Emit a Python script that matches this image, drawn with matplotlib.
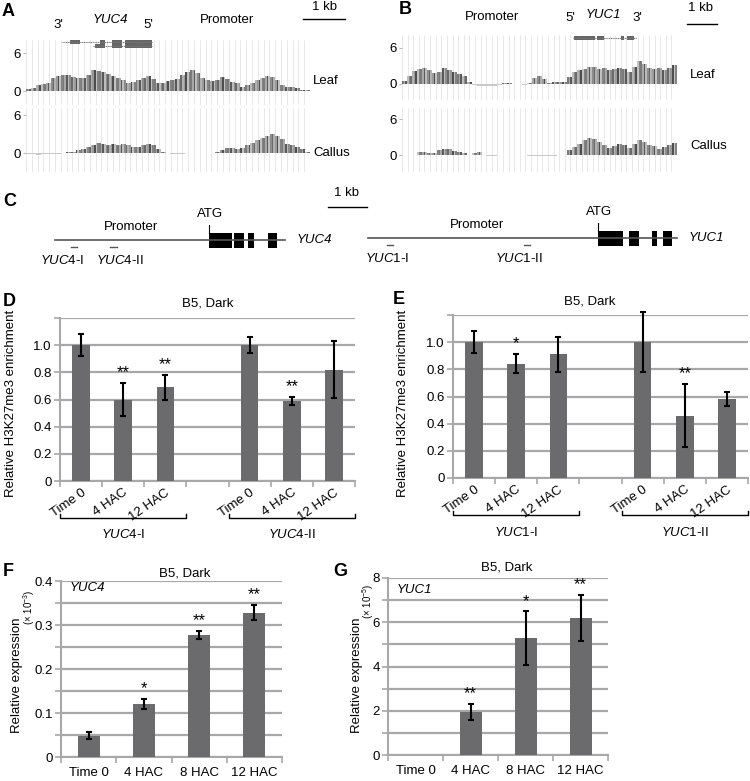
import numpy as np
import matplotlib
matplotlib.use('Agg')
import matplotlib.pyplot as plt
import matplotlib.transforms as mtransforms
from matplotlib.patches import Rectangle

plt.rcParams['font.family'] = ['Liberation Sans', 'DejaVu Sans']
plt.rcParams['mathtext.fontset'] = 'custom'
plt.rcParams['mathtext.rm'] = 'Liberation Sans'
plt.rcParams['mathtext.it'] = 'Liberation Sans:italic'

W, H = 750, 781

# H3K27me3 ChIP-seq tracks, one value per bin
yuc4_leaf = [0.3, 0.4, 0.9, 1.1, 1.2, 2.1, 2.4, 2.5, 2.5, 2.2, 2.0, 2.0, 2.5, 3.3, 3.2,
             3.0, 2.7, 2.3, 2.1, 1.7, 1.3, 1.4, 1.8, 2.1, 2.3, 1.9, 1.3, 1.3, 1.6, 1.8,
             1.9, 2.5, 3.0, 3.3, 2.9, 2.1, 1.7, 1.6, 1.7, 2.2, 1.9, 1.5, 1.2, 0.6, 0.9,
             1.2, 1.7, 2.1, 2.4, 2.2, 1.7, 0.9, 0.6, 0.6, 0.4, 0.2, 0.1]
yuc4_callus = [-0.2, -0.2, -0.25, -0.2, -0.2, -0.15, -0.1, 0.0, 0.1, 0.2, 0.4, 0.6, 0.9, 1.3,
               1.6, 1.5, 1.3, 1.4, 1.3, 1.5, 1.2, 0.9, 0.9, 1.2, 1.4, 1.3, 0.6, 0.2, 0.0,
               -0.1, -0.15, -0.1, -0.05, 0.0, -0.05, 0.0, -0.05, 0.0, 0.2, 0.5, 0.8, 0.8,
               0.7, 0.8, 1.2, 1.6, 2.0, 2.3, 2.7, 3.0, 2.7, 2.2, 1.5, 1.2, 1.0, 0.6, 0.2]
yuc1_leaf = [0.5, 1.3, 2.2, 2.5, 2.6, 2.3, 1.8, 2.0, 2.6, 2.4, 2.0, 1.6, 1.4, 0.3, -0.2,
             -0.3, -0.3, -0.4, -0.3, -0.1, 0.1, 0.1, 0.0, 0.0, -0.1, 0.2, 1.0, 1.3, 0.8,
             0.2, 0.4, 0.3, 0.4, 1.2, 2.0, 2.4, 2.5, 2.9, 2.8, 2.5, 2.6, 2.3, 2.5, 2.7,
             2.5, 2.0, 2.8, 3.8, 3.3, 2.6, 2.5, 2.6, 2.4, 2.6, 3.1]
yuc1_callus = [0.0, 0.0, 0.0, 0.5, 0.5, 0.3, 0.4, 0.8, 1.0, 1.0, 0.6, 0.5, 0.4, 0.0, 0.4,
               0.5, 0.0, -0.2, -0.2, -0.05, -0.05, -0.05, -0.05, -0.05, -0.05, -0.1, -0.1,
               -0.2, -0.2, -0.2, -0.2, 0.0, 0.0, 0.8, 1.4, 1.8, 2.5, 2.8, 2.6, 2.2, 1.6,
               1.2, 1.5, 1.8, 1.6, 1.2, 1.8, 2.5, 2.2, 1.7, 1.5, 1.0, 1.3, 1.6, 2.0]

# gene structures drawn above the tracks (x in figure pixels)
yuc4_model_rows = [(62, 152, [(70, 80), (100, 105), (112, 122), (125, 152)]),
                   (93, 152, [(95, 105), (112, 122), (125, 152)])]
yuc1_model_rows = [(573, 637, [(574, 595), (597, 604), (621, 624), (627, 634)])]

# schematic of panel C (x in figure pixels)
yuc4_locus = (55, 285)
yuc4_exons = [(209, 232), (234, 244), (248, 254), (268, 277)]
yuc4_primers = [(71, 77), (110, 117)]
yuc1_locus = (368, 677)
yuc1_exons = [(598, 623), (629, 639), (652, 657), (663, 672)]
yuc1_primers = [(387, 393), (524, 530)]

# ChIP-qPCR
chip_labels = ['Time 0', '4 HAC', '12 HAC']
yuc4_chip = [1.0, 0.60, 0.69, 1.0, 0.59, 0.82]
yuc4_chip_err = [0.08, 0.125, 0.09, 0.06, 0.03, 0.21]
yuc4_chip_sig = ['', '**', '**', '', '**', '']
yuc1_chip = [1.0, 0.84, 0.91, 1.0, 0.46, 0.58]
yuc1_chip_err = [0.08, 0.07, 0.13, 0.22, 0.23, 0.05]
yuc1_chip_sig = ['', '*', '', '', '**', '']

# qRT-PCR
expr_labels = ['Time 0', '4 HAC', '8 HAC', '12 HAC']
yuc4_expr = [0.048, 0.12, 0.277, 0.328]
yuc4_expr_err = [0.008, 0.012, 0.009, 0.017]
yuc4_expr_sig = ['', '*', '**', '**']
yuc1_expr = [0.0, 1.95, 5.27, 6.2]
yuc1_expr_err = [0.0, 0.35, 1.22, 1.04]
yuc1_expr_sig = ['', '**', '*', '**']

bar_color = '#6b6b6e'
grid_color = '#a8a8a8'
track_greys = ['#7a7a7a', '#a9a9a9', '#595959', '#bdbdbd', '#8c8c8c', '#6a6a6a', '#b2b2b2',
               '#9a9a9a', '#4e4e4e', '#c2c2c2', '#838383']

fig = plt.figure(figsize=(W / 100, H / 100), dpi=100)


def px_axes(l, t, r, b):
    return fig.add_axes([l / W, 1 - b / H, (r - l) / W, (b - t) / H])


# overlay in pixel coordinates for text and schematics
ov = fig.add_axes([0, 0, 1, 1], zorder=10)
ov.set_xlim(0, W)
ov.set_ylim(H, 0)
ov.axis('off')
ov.patch.set_alpha(0)


def track(l, t, r, b, y6, y0, vals, sub=3):
    upp = (y0 - y6) / 6.0
    ax = px_axes(l, t, r, b)
    n = len(vals)
    ax.set_xlim(0, n)
    lo, hi = -(b - y0) / upp, (y0 - t) / upp
    ax.set_ylim(lo, hi)
    ax.vlines(np.linspace(0, n, 50), lo, hi, color='#e8e8e8', lw=0.7, zorder=0)
    # each bin drawn as a few thin stripes of different grey
    heights = np.repeat(vals, sub)
    xs = (np.arange(n * sub) + 0.5) / sub
    cols = [track_greys[i % len(track_greys)] if v > 0 else '#c8c8c8' for i, v in enumerate(heights)]
    ax.bar(xs, heights, width=1.0 / sub, color=cols, lw=0, zorder=2)
    ax.set_yticks([0, 6])
    ax.tick_params(axis='y', length=2, color='#bbbbbb', labelsize=9.5, pad=2)
    ax.set_xticks([])
    for s in ax.spines.values():
        s.set_visible(False)
    return ax


# panel A / B tracks
track(26, 40, 310, 105, 53, 91, yuc4_leaf)
track(26, 108, 310, 172, 115, 153, yuc4_callus)
track(402, 35, 677, 100, 48, 84, yuc1_leaf)
track(402, 108, 677, 172, 119, 155, yuc1_callus)


def gene_model(rows, y0, dy):
    for i, (x0, x1, exons) in enumerate(rows):
        y = y0 + i * dy
        ov.plot([x0, x1], [y, y], color='#777777', lw=0.8, ls=(0, (1, 0.6)))
        for e0, e1 in exons:
            ov.add_patch(Rectangle((e0, y - 2), e1 - e0, 4, color='#666666', lw=0))


gene_model(yuc4_model_rows, 41.5, 4.5)
gene_model(yuc1_model_rows, 38.3, 0)

fs = 9.5
ov.text(8, 11, 'A', fontsize=13, fontweight='bold', ha='center', va='center')
ov.text(58, 25, "3'", fontsize=fs, ha='center', va='center')
ov.text(110, 20, 'YUC4', fontsize=fs, style='italic', ha='center', va='center')
ov.text(148, 25, "5'", fontsize=fs, ha='center', va='center')
ov.text(227, 20, 'Promoter', fontsize=fs, ha='center', va='center')
ov.text(325, 7, '1 kb', fontsize=fs, ha='center', va='center')
ov.plot([303, 345], [19, 19], color='black', lw=1)
ov.text(313, 81, 'Leaf', fontsize=fs, ha='left', va='center')
ov.text(313, 153, 'Callus', fontsize=fs, ha='left', va='center')

ov.text(405, 9, 'B', fontsize=13, fontweight='bold', ha='center', va='center')
ov.text(492, 17, 'Promoter', fontsize=fs, ha='center', va='center')
ov.text(570, 18, "5'", fontsize=fs, ha='center', va='center')
ov.text(603, 15, 'YUC1', fontsize=fs, style='italic', ha='center', va='center')
ov.text(637, 18, "3'", fontsize=fs, ha='center', va='center')
ov.text(700, 8, '1 kb', fontsize=fs, ha='center', va='center')
ov.plot([687, 717], [24, 24], color='black', lw=1)
ov.text(690, 75, 'Leaf', fontsize=fs, ha='left', va='center')
ov.text(690, 146, 'Callus', fontsize=fs, ha='left', va='center')

# panel C schematic
ov.text(10, 202, 'C', fontsize=13, fontweight='bold', ha='center', va='center')
ov.text(347, 193, '1 kb', fontsize=fs, ha='center', va='center')
ov.plot([328, 367], [207, 207], color='black', lw=1)


def locus(span, exons, primers, y, name, prom_x, prim_names, prim_x):
    ov.plot(span, [y, y], color='#555555', lw=1.2)
    for e0, e1 in exons:
        ov.add_patch(Rectangle((e0, y - 7.5), e1 - e0, 15, color='black', lw=0))
    ov.plot([exons[0][0], exons[0][0]], [y - 15, y - 7], color='black', lw=0.8)
    ov.text(exons[0][0] + 1, y - 26, 'ATG', fontsize=fs, ha='center', va='center')
    ov.text(prom_x, y - 13, 'Promoter', fontsize=fs, ha='center', va='center')
    ov.text(span[1] + 12, y, name, fontsize=fs, style='italic', ha='left', va='center')
    for (p0, p1), nm, px in zip(primers, prim_names, prim_x):
        ov.plot([p0, p1], [y + 7, y + 7], color='#555555', lw=1)
        ov.text(px, y + 20, nm, fontsize=fs, ha='center', va='center')


locus(yuc4_locus, yuc4_exons, yuc4_primers, 240, 'YUC4', 131,
      [r'$\mathit{YUC4}$-I', r'$\mathit{YUC4}$-II'], [62, 120])
locus(yuc1_locus, yuc1_exons, yuc1_primers, 238, 'YUC1', 477,
      [r'$\mathit{YUC1}$-I', r'$\mathit{YUC1}$-II'], [387, 519])


def style_bar_axes(ax):
    for side in ['top', 'right']:
        ax.spines[side].set_visible(False)
    for side in ['left', 'bottom']:
        ax.spines[side].set_color(grid_color)
        ax.spines[side].set_linewidth(1.5)
    ax.yaxis.grid(True, which='both', color=grid_color, lw=1.6, zorder=0)
    ax.set_axisbelow(True)
    ax.tick_params(axis='y', which='both', length=4, color=grid_color, width=1.2, labelsize=9.5, pad=2)
    ax.tick_params(axis='x', which='major', length=0)
    ax.tick_params(axis='x', which='minor', length=4, color=grid_color, width=1.2)


def add_errors(ax, pos, means, errs):
    keep = [i for i in range(len(pos)) if errs[i] > 0]
    eb = ax.errorbar([pos[i] for i in keep], [means[i] for i in keep], yerr=[errs[i] for i in keep],
                     fmt='none', ecolor='black', elinewidth=1.5, capsize=2.5, capthick=1.5, zorder=4)
    for art in eb.lines[1] + eb.lines[2]:
        art.set_clip_on(False)


def add_stars(ax, pos, means, errs, sigs):
    for x, m, e, s in zip(pos, means, errs, sigs):
        if s:
            ax.annotate(s, (x, m + e), xytext=(0, 2), textcoords='offset points',
                        ha='center', va='bottom', fontsize=12)


def chip_panel(l, t, r, b, means, errs, sigs, groups, title_x, title_y):
    ax = px_axes(l, t, r, b)
    pos = [0, 1, 2, 4, 5, 6]
    ax.bar(pos, means, width=0.42, color=bar_color, zorder=3)
    add_errors(ax, pos, means, errs)
    ax.set_xlim(-0.5, 6.5)
    ax.set_ylim(0, 1.2)
    ax.set_yticks(np.arange(0, 1.21, 0.2))
    ax.set_yticklabels(['0', '0.2', '0.4', '0.6', '0.8', '1.0', ''])
    ax.set_xticks(pos)
    ax.set_xticklabels(chip_labels * 2, rotation=35, ha='right', rotation_mode='anchor', fontsize=9.5)
    ax.set_xticks(np.arange(-0.5, 6.6, 1), minor=True)
    style_bar_axes(ax)
    ax.tick_params(axis='x', which='major', pad=4)
    add_stars(ax, pos, means, errs, sigs)
    h = b - t
    trans = mtransforms.blended_transform_factory(ax.transData, ax.transAxes)
    yb = -37 / h
    up = 4 / h
    for (x0, x1), g in zip([(-0.5, 2.5), (3.5, 6.5)], groups):
        ax.plot([x0, x0, x1, x1], [yb + up, yb, yb, yb + up], color='black', lw=1,
                transform=trans, clip_on=False)
        ax.text((x0 + x1) / 2, -54 / h, g, transform=trans, ha='center', va='center', fontsize=9.5)
    ax.text(title_x, title_y, 'B5, Dark', transform=ax.transAxes, ha='center', va='center', fontsize=9.5)
    return ax


chip_panel(60, 318, 355, 481, yuc4_chip, yuc4_chip_err, yuc4_chip_sig,
           [r'$\mathit{YUC4}$-I', r'$\mathit{YUC4}$-II'], 0.50, 1.092)
chip_panel(453, 315, 748, 478, yuc1_chip, yuc1_chip_err, yuc1_chip_sig,
           [r'$\mathit{YUC1}$-I', r'$\mathit{YUC1}$-II'], 0.464, 1.08)
ov.text(9, 301, 'D', fontsize=13, fontweight='bold', ha='center', va='center')
ov.text(399, 299, 'E', fontsize=13, fontweight='bold', ha='center', va='center')
ov.text(11, 403, 'Relative H3K27me3 enrichment', rotation=90, fontsize=9.5, ha='center', va='center')
ov.text(403, 403, 'Relative H3K27me3 enrichment', rotation=90, fontsize=9.5, ha='center', va='center')


def expr_panel(l, t, r, b, vals, errs, sigs, top, step, minor, fmt, gene, gene_y, title_x, title_y):
    ax = px_axes(l, t, r, b)
    pos = list(range(len(vals)))
    ax.bar(pos, vals, width=0.4, color=bar_color, zorder=3)
    add_errors(ax, pos, vals, errs)
    ax.set_xlim(-0.5, len(vals) - 0.5)
    ax.set_ylim(0, top)
    ticks = np.arange(0, top + step / 2, step)
    ax.set_yticks(ticks)
    ax.set_yticklabels([fmt(v) for v in ticks])
    ax.set_yticks(np.arange(0, top + minor / 2, minor), minor=True)
    ax.set_xticks(pos)
    ax.set_xticklabels(expr_labels, fontsize=9.5)
    ax.set_xticks(np.arange(-0.5, len(vals), 1), minor=True)
    style_bar_axes(ax)
    ax.tick_params(axis='x', which='major', pad=7)
    add_stars(ax, pos, vals, errs, sigs)
    ax.text(0.04, gene_y, gene, transform=ax.transAxes, style='italic', ha='left', va='center', fontsize=9.5)
    ax.text(title_x, title_y, 'B5, Dark', transform=ax.transAxes, ha='center', va='center', fontsize=9.5)
    return ax


expr_panel(61, 581, 282, 757, yuc4_expr, yuc4_expr_err, yuc4_expr_sig, 0.4, 0.1, 0.05,
           lambda v: '0' if v == 0 else '%.1f' % v, 'YUC4', 0.96, 0.56, 1.045)
expr_panel(388, 578, 608, 755, yuc1_expr, yuc1_expr_err, yuc1_expr_sig, 8, 2, 1,
           lambda v: '%d' % v, 'YUC1', 0.93, 0.54, 1.062)
ov.text(8, 572, 'F', fontsize=13, fontweight='bold', ha='center', va='center')
ov.text(340, 572, 'G', fontsize=13, fontweight='bold', ha='center', va='center')
ov.text(17, 675, 'Relative expression', rotation=90, fontsize=9.5, ha='center', va='center')
ov.text(29, 607, r'(× 10$^{-3}$)', rotation=90, fontsize=7, ha='center', va='center')
ov.text(357, 675, 'Relative expression', rotation=90, fontsize=9.5, ha='center', va='center')
ov.text(368, 601, r'(× 10$^{-5}$)', rotation=90, fontsize=7, ha='center', va='center')

fig.savefig('out.png', dpi=100)
